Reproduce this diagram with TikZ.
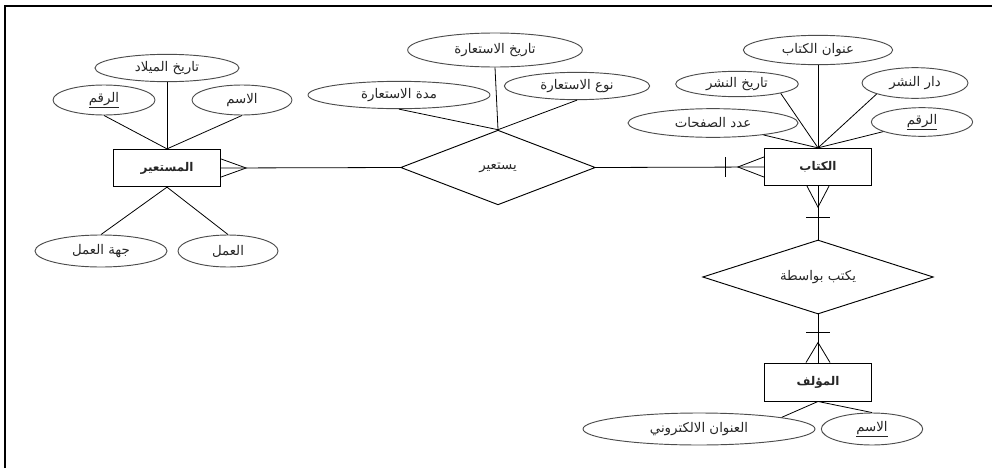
\documentclass[tikz,border=0pt]{standalone}
\usepackage{fontspec}
\usetikzlibrary{positioning,calc,shapes.geometric}
\newfontfamily\arabicfont[Script=Arabic]{DejaVu Sans}
\TeXXeTstate=1
\newcommand{\artxt}[1]{\beginR #1\endR}
\newcommand{\keytxt}[1]{\underline{\beginR #1\endR}}

\begin{document}
\begin{tikzpicture}[
    x=0.75pt, y=-0.75pt,
    every node/.style={font=\arabicfont\fontsize{10}{11}\selectfont, text=black!85},
    entbox/.style={draw, line width=0.7pt, inner sep=0pt, minimum width=80.5pt,
                   minimum height=28pt, font=\arabicfont\bfseries\fontsize{9}{10}\selectfont},
    attr/.style={draw=black!70, ellipse, line width=0.7pt, inner sep=0pt},
    relbox/.style={draw, diamond, line width=0.7pt, inner sep=0pt, aspect=2.6},
    conn/.style={line width=0.6pt}
  ]
  \useasboundingbox (0,0) rectangle (992,468);
  \draw[line width=1.6pt] (5,468) -- (5,6) -- (992,6);

  % Left: borrower
  \node[entbox] (bor) at (167,168) {\artxt{المستعير}};
  \node[attr, minimum width=108pt, minimum height=20.5pt] (bdob) at (167,68) {\artxt{تاريخ الميلاد}};
  \node[attr, minimum width=76.5pt, minimum height=22.5pt] (bid) at (104,100) {\keytxt{الرقم}};
  \node[attr, minimum width=75pt, minimum height=22.5pt] (bname) at (242,100) {\artxt{الاسم}};
  \node[attr, minimum width=99pt, minimum height=24pt] (bjobpl) at (101,251) {\artxt{جهة العمل}};
  \node[attr, minimum width=75pt, minimum height=24pt] (bjob) at (228,251) {\artxt{العمل}};

  \draw[conn] (bdob.south) -- (bor.north);
  \draw[conn] (bid.south) -- (bor.north);
  \draw[conn] (bname.south) -- (bor.north);
  \draw[conn] (bor.south) -- (bjobpl.north);
  \draw[conn] (bor.south) -- (bjob.north);

  % Middle: borrowing
  \node[relbox, minimum width=146pt, minimum height=56pt] (brw) at (498,167.5) {\artxt{يستعير}};
  \node[attr, minimum width=131pt, minimum height=25.5pt] (rdate) at (495,50) {\artxt{تاريخ الاستعارة}};
  \node[attr, minimum width=136.5pt, minimum height=20.5pt] (rdur) at (399,95) {\artxt{مدة الاستعارة}};
  \node[attr, minimum width=109pt, minimum height=20.5pt] (rtype) at (577,86) {\artxt{نوع الاستعارة}};

  \draw[conn] (rdate.south) -- (brw.north);
  \draw[conn] (rdur.south) -- (brw.north);
  \draw[conn] (rtype.south) -- (brw.north);

  % Right: book
  \node[entbox] (book) at (818,167) {\artxt{الكتاب}};
  \node[attr, minimum width=112pt, minimum height=22pt] (ktitle) at (818,50) {\artxt{عنوان الكتاب}};
  \node[attr, minimum width=92pt, minimum height=19pt] (kdate) at (737,84) {\artxt{تاريخ النشر}};
  \node[attr, minimum width=79.5pt, minimum height=23pt] (kpub) at (915,83) {\artxt{دار النشر}};
  \node[attr, minimum width=127.5pt, minimum height=21.5pt] (kpages) at (713,123) {\artxt{عدد الصفحات}};
  \node[attr, minimum width=76pt, minimum height=21.5pt] (kid) at (922,122) {\keytxt{الرقم}};

  \draw[conn] (ktitle.south) -- (book.north);
  \draw[conn] (kdate.-12) -- (book.north);
  \draw[conn] (kpub.-164) -- (book.north);
  \draw[conn] (kpages) -- (book.north);
  \draw[conn] (kid) -- (book.north);

  % Bottom: author
  \node[relbox, minimum width=173pt, minimum height=55.5pt] (wrt) at (818,277) {\artxt{يكتب بواسطة}};
  \node[entbox, minimum height=28.5pt] (auth) at (818,382) {\artxt{المؤلف}};
  \node[attr, minimum width=174pt, minimum height=24pt] (aemail) at (699,429) {\artxt{العنوان الالكتروني}};
  \node[attr, minimum width=76pt, minimum height=24pt] (aname) at (872,429) {\keytxt{الاسم}};

  \draw[conn] (auth.south) -- (aemail.8);
  \draw[conn] (auth.south) -- (aname.north);

  % Links between entities
  \draw[conn] (bor.east) -- (brw.west);
  \draw[conn] (brw.east) -- (book.west);
  \draw[conn] (book.south) -- (wrt.north);
  \draw[conn] (wrt.south) -- (auth.north);

  % crow's feet and bars
  \coordinate (borft) at ($(bor.east)+(25,0)$);
  \draw[conn] ($(bor.east)+(0,-9)$) -- (borft) -- ($(bor.east)+(0,9)$);

  \coordinate (bookft) at ($(book.west)+(-26,0)$);
  \draw[conn] ($(book.west)+(0,-10)$) -- (bookft) -- ($(book.west)+(0,10)$);
  \draw[conn] ($(book.west)+(-38,-10)$) -- ($(book.west)+(-38,10)$);

  \coordinate (bookdn) at ($(book.south)+(0,21)$);
  \draw[conn] ($(book.south)+(-11,0)$) -- (bookdn) -- ($(book.south)+(11,0)$);
  \draw[conn] ($(book.south)+(-12,31)$) -- ($(book.south)+(12,31)$);

  \coordinate (authup) at ($(auth.north)+(0,-20)$);
  \draw[conn] ($(auth.north)+(-12,0)$) -- (authup) -- ($(auth.north)+(12,0)$);
  \draw[conn] ($(auth.north)+(-12,-30)$) -- ($(auth.north)+(12,-30)$);
\end{tikzpicture}
\end{document}
